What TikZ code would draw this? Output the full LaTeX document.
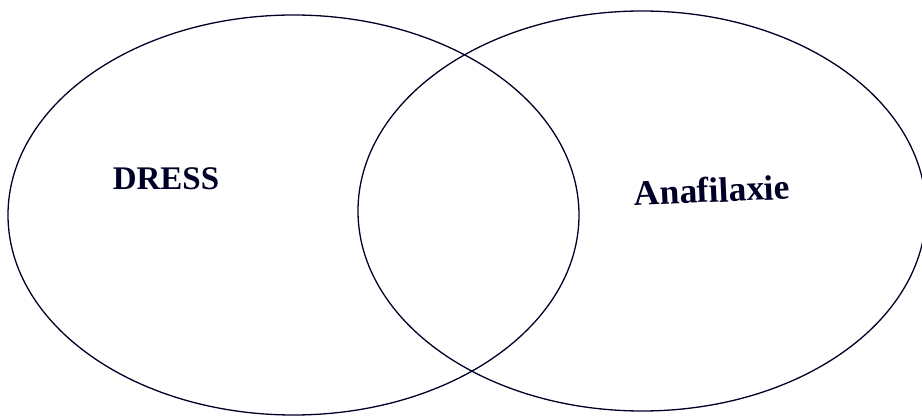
\documentclass[tikz,border=0pt]{standalone}
\usepackage{fontspec}
\setmainfont{Liberation Serif}
\begin{document}
\begin{tikzpicture}[x=1pt,y=-1pt,
  set/.style={draw=black!85!blue, line width=1.3pt},
  lbl/.style={font=\bfseries, text=black!85!blue, inner sep=0pt}]
\useasboundingbox (0,0) rectangle (922,419);
\draw[set] (293.5,215) ellipse [x radius=285.5, y radius=200];
\draw[set] (642,211) ellipse [x radius=284, y radius=200];
\node[lbl, font=\bfseries\fontsize{33}{40}\selectfont] (dress) at (166,179) {DRESS};
\node[lbl, font=\bfseries\fontsize{35.5}{42}\selectfont, rotate=2.5] (ana) at (712,190) {Anafilaxie};
\end{tikzpicture}
\end{document}
